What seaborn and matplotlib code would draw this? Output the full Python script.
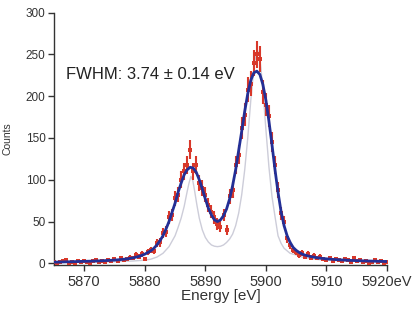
#!/usr/bin/env python3
"""Mn K-alpha spectrum: measured counts, fitted line shape and intrinsic line."""

import matplotlib
matplotlib.use("Agg")
import matplotlib.pyplot as plt
import numpy as np
import pandas as pd
import seaborn as sns

# measured spectrum, 0.5 eV bins
ENERGY = [
    5865.0, 5865.5, 5866.0, 5866.5, 5867.0, 5867.5, 5868.0, 5868.5, 5869.0, 5869.5,
    5870.0, 5870.5, 5871.0, 5871.5, 5872.0, 5872.5, 5873.0, 5873.5, 5874.0, 5874.5,
    5875.0, 5875.5, 5876.0, 5876.5, 5877.0, 5877.5, 5878.0, 5878.5, 5879.0, 5879.5,
    5880.0, 5880.5, 5881.0, 5881.5, 5882.0, 5882.5, 5883.0, 5883.5, 5884.0, 5884.5,
    5885.0, 5885.5, 5886.0, 5886.5, 5887.0, 5887.5, 5888.0, 5888.5, 5889.0, 5889.5,
    5890.0, 5890.5, 5891.0, 5891.5, 5892.0, 5892.5, 5893.0, 5893.5, 5894.0, 5894.5,
    5895.0, 5895.5, 5896.0, 5896.5, 5897.0, 5897.5, 5898.0, 5898.5, 5899.0, 5899.5,
    5900.0, 5900.5, 5901.0, 5901.5, 5902.0, 5902.5, 5903.0, 5903.5, 5904.0, 5904.5,
    5905.0, 5905.5, 5906.0, 5906.5, 5907.0, 5907.5, 5908.0, 5908.5, 5909.0, 5909.5,
    5910.0, 5910.5, 5911.0, 5911.5, 5912.0, 5912.5, 5913.0, 5913.5, 5914.0, 5914.5,
    5915.0, 5915.5, 5916.0, 5916.5, 5917.0, 5917.5, 5918.0, 5918.5, 5919.0, 5919.5,
    5920.0,
]
COUNTS = [
    2, 1, 2, 3, 4, 1, 2, 1, 3, 2,
    3, 2, 1, 3, 4, 2, 3, 2, 4, 3,
    5, 3, 6, 4, 5, 7, 6, 10, 8, 11,
    5, 14, 16, 15, 24, 25, 36, 38, 55, 58,
    78, 82, 100, 110, 118, 136, 110, 118, 96, 90,
    82, 70, 62, 55, 47, 44, 58, 40, 80, 88,
    118, 130, 162, 178, 208, 215, 240, 250, 244, 205,
    190, 176, 145, 118, 88, 60, 50, 30, 22, 16,
    14, 10, 12, 8, 11, 7, 9, 6, 8, 5,
    4, 6, 3, 5, 4, 3, 5, 4, 2, 6,
    3, 4, 2, 3, 1, 2, 4, 2, 3, 1,
    2,
]
FIT = [
    1.5, 1.5, 1.6, 1.7, 1.8, 1.9, 2.0, 2.1, 2.2, 2.3,
    2.4, 2.5, 2.6, 2.7, 2.8, 3.0, 3.1, 3.3, 3.5, 3.7,
    3.9, 4.2, 4.5, 4.9, 5.3, 5.9, 6.5, 7.3, 8.3, 9.5,
    11, 13, 15, 18, 22, 27, 33, 41, 50, 61,
    72, 85, 96, 106, 112, 115, 114, 109, 100, 89,
    77, 66, 58, 52, 50, 52, 57, 65, 77, 93,
    112, 135, 158, 182, 203, 219, 228, 230, 226, 214,
    195, 170, 142, 112, 85, 62, 45, 33, 25, 19,
    15.5, 13, 11, 9.8, 8.8, 8.0, 7.3, 6.7, 6.2, 5.8,
    5.4, 5.1, 4.8, 4.5, 4.3, 4.1, 3.9, 3.7, 3.5, 3.4,
    3.2, 3.1, 3.0, 2.9, 2.8, 2.7, 2.6, 2.5, 2.4, 2.3,
    2.2,
]

# intrinsic (unbroadened) line shape
LINE_ENERGY = [
    5865, 5870, 5875, 5878, 5880, 5881, 5882, 5883, 5884, 5885,
    5885.5, 5886, 5886.5, 5887, 5887.3, 5887.6, 5887.9, 5888.2, 5888.6, 5889,
    5889.5, 5890, 5890.5, 5891, 5891.5, 5892, 5892.5, 5893, 5893.5, 5894,
    5894.5, 5895, 5895.5, 5896, 5896.5, 5897, 5897.5, 5898, 5898.3, 5898.6,
    5898.9, 5899.2, 5899.6, 5900, 5900.5, 5901, 5901.5, 5902, 5902.5, 5903,
    5904, 5905, 5906, 5908, 5910, 5913, 5916, 5920,
]
LINE_COUNTS = [
    1.0, 1.4, 2.0, 2.8, 3.8, 5, 7.5, 12, 20, 33,
    43, 54, 68, 86, 96, 104, 100, 88, 70, 54,
    40, 31, 25.5, 22, 20.5, 20, 20.5, 22, 25, 29,
    35, 45, 60, 82, 112, 150, 195, 232, 248, 255,
    250, 232, 198, 160, 115, 80, 56, 33, 24, 18,
    12, 10, 7.5, 5, 3.8, 2.8, 2.2, 1.8,
]

X_TICKS = [5870, 5880, 5890, 5900, 5910, 5920]
X_TICK_LABELS = ["5870", "5880", "5890", "5900", "5910", "5920eV"]
Y_TICKS = [0, 50, 100, 150, 200, 250, 300]

RED = "#d8382a"
BLUE = "#232f96"
GRAY = "#cdcdd9"
TEXT = "#333333"


def main():
    sns.set_style("ticks")
    plt.rcParams["font.family"] = ["Liberation Sans", "DejaVu Sans"]

    spec = pd.DataFrame({"energy": ENERGY, "counts": COUNTS, "fit": FIT})
    line = pd.DataFrame({"energy": LINE_ENERGY, "counts": LINE_COUNTS})

    fig = plt.figure(figsize=(4.18, 3.16), dpi=100)
    ax = fig.add_axes([0.129, 0.160, 0.797, 0.800])

    sns.lineplot(data=line, x="energy", y="counts", ax=ax, color=GRAY,
                 linewidth=1.0, zorder=1)
    ax.errorbar(spec["energy"], spec["counts"], yerr=np.sqrt(spec["counts"]),
                fmt="none", ecolor=RED, elinewidth=1.5, zorder=2)
    sns.scatterplot(data=spec, x="energy", y="counts", ax=ax, color=RED,
                    marker="s", s=9, linewidth=0, zorder=3)
    sns.lineplot(data=spec, x="energy", y="fit", ax=ax, color=BLUE,
                 linewidth=2.0, zorder=4)

    ax.set_xlim(5865, 5920)
    ax.set_ylim(-2.5, 300)
    ax.set_xticks(X_TICKS)
    ax.set_xticklabels(X_TICK_LABELS)
    ax.set_yticks(Y_TICKS)
    ax.tick_params(axis="x", labelsize=10.5, colors=TEXT, length=4, width=1, pad=3)
    ax.tick_params(axis="y", labelsize=8.5, colors=TEXT, length=4, width=1, pad=2)
    ax.set_xlabel("Energy [eV]", fontsize=11, color=TEXT, labelpad=0)
    ax.set_ylabel("Counts", fontsize=7.5, color=TEXT)
    ax.yaxis.set_label_coords(-0.125, 0.5)

    sns.despine(ax=ax)
    for side in ("left", "bottom"):
        ax.spines[side].set_color(TEXT)
        ax.spines[side].set_linewidth(1.0)

    ax.text(0.035, 0.757, "FWHM: 3.74 \u00b1 0.14 eV", transform=ax.transAxes,
            fontsize=12, color="#222222", va="center", ha="left")

    fig.savefig("out.png", dpi=100)
    plt.close(fig)


if __name__ == "__main__":
    main()
